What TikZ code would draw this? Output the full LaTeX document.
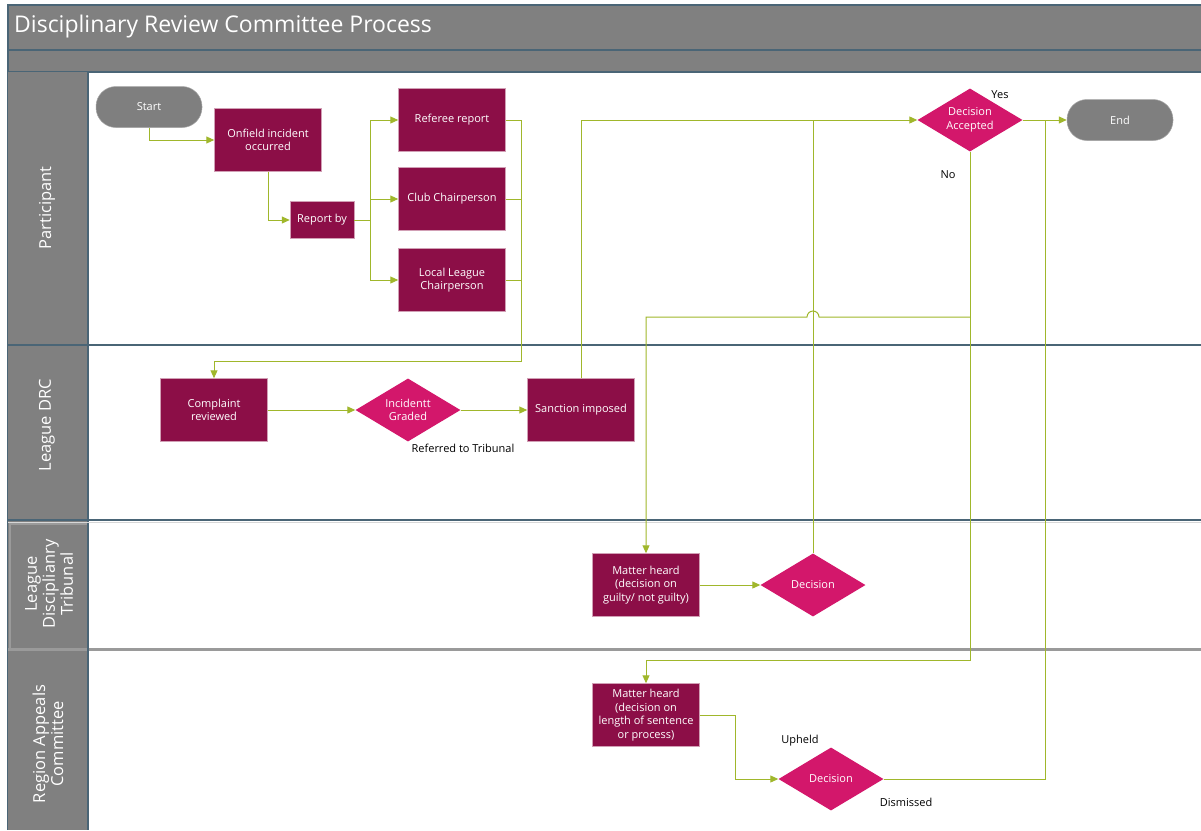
\documentclass[tikz,border=0pt]{standalone}
\usepackage{fontspec}
\setmainfont{Open Sans}
\usetikzlibrary{shapes.geometric,arrows.meta}
\definecolor{slate}{HTML}{4A6576}
\definecolor{hdr}{HTML}{808080}
\definecolor{boxred}{HTML}{8C0E47}
\definecolor{dpink}{HTML}{D3176B}
\definecolor{olive}{HTML}{A0B72B}
\definecolor{pillgray}{HTML}{7F7F7F}
\definecolor{lanegray}{HTML}{9A9A9A}
\begin{document}
\begin{tikzpicture}[x=1pt,y=-1pt,
  boxfont/.style={font=\fontsize{11}{13.5}\selectfont},
  procbox/.style={boxfont,rectangle,fill=boxred,draw=boxred!40!white,line width=0.5pt,text=white,minimum width=107pt,minimum height=63pt,align=center,inner sep=1pt},
  smallbox/.style={procbox,minimum width=64pt,minimum height=37pt},
  decbox/.style={boxfont,diamond,fill=dpink,draw=none,text=white,minimum width=105pt,minimum height=63pt,align=center,inner sep=0pt,aspect=1.67},
  pill/.style={boxfont,rectangle,rounded corners=20pt,fill=pillgray,draw=pillgray!70!white,line width=0.5pt,text=white,minimum width=106pt,minimum height=41pt},
  conn/.style={draw=olive,line width=1pt,-{Triangle[length=8pt,width=7pt]}},
  wire/.style={draw=olive,line width=1pt},
  lbl/.style={font=\fontsize{11}{13.5}\selectfont,text=black,inner sep=0pt},
  lanelbl/.style={font=\fontsize{16.5}{18}\selectfont,text=white,rotate=90,align=center,inner sep=0pt},
  lanesep/.style={draw=slate,line width=1.5pt}
]
\useasboundingbox (0,0) rectangle (1201,830);
\fill[white] (0,0) rectangle (1201,830);

% title bars
\fill[hdr] (8,5) rectangle (1201,72);
\draw[lanesep] (1201,5) -- (8,5) -- (8,830);
\draw[lanesep] (8,50) -- (1201,50);
\draw[lanesep] (8,72) -- (1201,72);
\node[anchor=west,text=white,font=\fontsize{23}{26}\selectfont,inner sep=0pt] (title) at (14,27) {Disciplinary Review Committee Process};

% lane headers
\fill[hdr] (8,72) rectangle (88,830);
\draw[lanesep] (88,72) -- (88,830);
\draw[lanesep] (8,345) -- (1201,345);
\draw[lanesep] (8,520) -- (1201,520);
\fill[lanegray!40] (8,521.5) rectangle (1201,523);
\fill[hdr] (8,523) rectangle (88,830);
\draw[lanegray,line width=2pt] (10,648) -- (10,524) -- (88,524);
\draw[lanegray,line width=3pt] (8,649.5) -- (1201,649.5);
\draw[lanesep] (88,523) -- (88,830);

\node[lanelbl] (l1) at (47,208) {Participant};
\node[lanelbl] (l2) at (47,425) {League DRC};
\node[lanelbl] (l3) at (49,584) {League\\Disciplianry\\Tribunal};
\node[lanelbl] (l4) at (48,744) {Region Appeals\\Committee};

% nodes
\node[pill] (start) at (149,107) {Start};
\node[procbox] (onfield) at (268,140) {Onfield incident\\occurred};
\node[smallbox] (reportby) at (322,220) {Report by};
\node[procbox] (referee) at (452,120) {Referee report};
\node[procbox] (club) at (452,199) {Club Chairperson};
\node[procbox] (local) at (452,280) {Local League\\Chairperson};
\node[decbox] (decacc) at (970,120) {Decision\\Accepted};
\node[pill] (end) at (1120,120) {End};
\node[procbox] (complaint) at (214,410) {Complaint\\reviewed};
\node[decbox] (graded) at (408,410) {Incidentt\\Graded};
\node[procbox] (sanction) at (581,410) {Sanction imposed};
\node[procbox] (matter1) at (646,585) {Matter heard\\(decision on\\guilty/ not guilty)};
\node[decbox] (dec1) at (813,585) {Decision};
\node[procbox] (matter2) at (646,715) {Matter heard\\(decision on\\length of sentence\\or process)};
\node[decbox] (dec2) at (831,779) {Decision};

% labels
\node[lbl] (yes) at (1000,95) {Yes};
\node[lbl] (no) at (948,175) {No};
\node[lbl] (reft) at (463,448) {Referred to Tribunal};
\node[lbl] (upheld) at (800,741) {Upheld};
\node[lbl] (dismissed) at (906,802) {Dismissed};

% coordinates
\coordinate (rb) at (370,220);
\coordinate (j1) at (521,361);
\coordinate (n1) at (970,660);
\coordinate (n2) at (970,317);
\coordinate (n3) at (1045,120);
\coordinate (m2r) at (735,715);

% connectors
\draw[conn] (start.south) |- (onfield.west);
\draw[conn] (onfield.south) |- (reportby.west);
\draw[wire] (reportby.east) -- (rb);
\draw[conn] (rb) |- (referee.west);
\draw[conn] (rb |- club.west) -- (club.west);
\draw[conn] (rb) |- (local.west);
\draw[wire] (club.east) -- (club.east -| j1);
\draw[wire] (local.east) -- (local.east -| j1);
\draw[conn] (referee.east) -| (j1) -| (complaint.north);
\draw[conn] (complaint.east) -- (graded.west);
\draw[conn] (graded.east) -- (sanction.west);
\draw[conn] (sanction.north) |- (decacc.west);
\draw[conn] (decacc.east) -- (end.west);
\draw[conn] (decacc.south) -- (n1) -| (matter2.north);
\draw[conn] (n2) -- ([xshift=6pt]dec1.north |- n2) arc[start angle=0,end angle=180,radius=6pt] -| (matter1.north);
\draw[wire] (dec1.north) -- (dec1.north |- decacc.west);
\draw[conn] (matter1.east) -- (dec1.west);
\draw[conn] (matter2.east) -- (m2r) |- (dec2.west);
\draw[wire] (dec2.east) -| (n3);
\end{tikzpicture}
\end{document}
